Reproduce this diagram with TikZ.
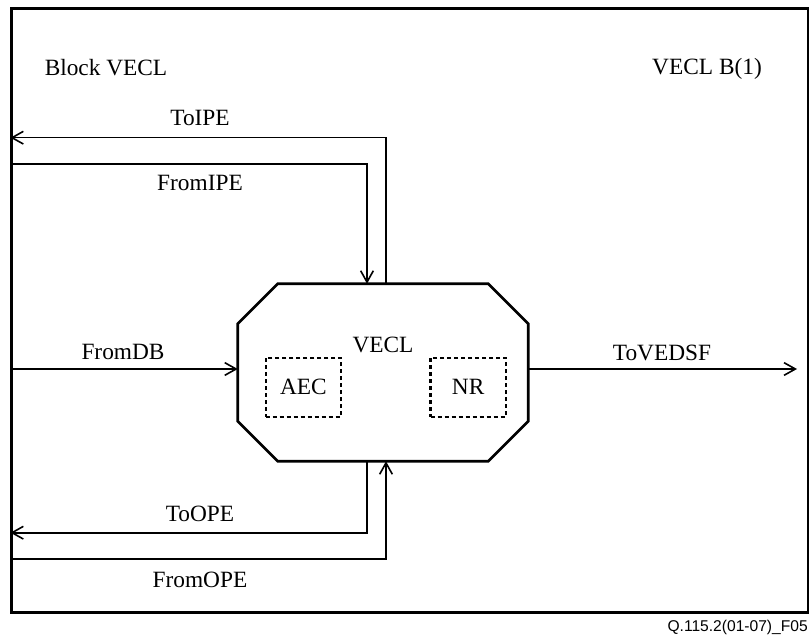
\documentclass[tikz,border=0pt]{standalone}
\usepackage{fontspec}
\setmainfont{Liberation Serif}
\newfontfamily\footerfont{Liberation Sans}
\usetikzlibrary{arrows.meta,calc}
\tikzset{
  lbl/.style={font=\fontsize{17.5}{20}\selectfont, inner sep=0pt},
  conn/.style={line width=1.2pt, -{Straight Barb[length=8.5pt,width=9.5pt]}},
  subbox/.style={draw, dash pattern=on 3pt off 2.25pt, line width=1.6pt,
    minimum width=56.5pt, minimum height=44.25pt, inner sep=0pt},
}
\begin{document}
\begin{tikzpicture}[x=0.75pt,y=-0.75pt]
\useasboundingbox (0,0) rectangle (811,635);
% outer block frame
\node[draw, line width=2pt, minimum width=597.2pt, minimum height=453.3pt, inner sep=0pt]
  (frame) at (409.85,310.5) {};
% central VECL process (octagon)
\node[minimum width=217.5pt, minimum height=132.75pt, inner sep=0pt] (vecl) at (383,372.5) {};
\draw[line width=2pt, line join=miter]
  ($(vecl.north west)+(40,0)$) -- ($(vecl.north east)+(-40,0)$)
  -- ($(vecl.north east)+(0,40)$) -- ($(vecl.south east)+(0,-40)$)
  -- ($(vecl.south east)+(-40,0)$) -- ($(vecl.south west)+(40,0)$)
  -- ($(vecl.south west)+(0,-40)$) -- ($(vecl.north west)+(0,40)$) -- cycle;
\node[lbl] (title) at (383,345) {VECL};
\node[subbox] (aec) at (303.4,387.2) {};
\node[lbl] (aectxt) at (aec) {AEC};
\node[subbox] (nr) at (468.2,387.2) {};
\node[lbl] (nrtxt) at (nr) {NR};
% headings
\node[lbl] (blk) at (106,68) {Block VECL};
\node[lbl] (blkid) at (707,69) {VECL B(1)};
% routing points
\coordinate (tipe) at (386,137.7);
\coordinate (fipe) at (367,164);
\coordinate (fdb) at (0,369);
\coordinate (vedsf) at (797,369);
\coordinate (tope) at (367,532.7);
\coordinate (fope) at (386,558.7);
% connectors
\draw[conn] (vecl.north -| tipe) -- (tipe) -- (frame.west |- tipe);
\draw[conn] (frame.west |- fipe) -- (fipe) -- (vecl.north -| fipe);
\draw[conn] (frame.west |- fdb) -- (vecl.west |- fdb);
\draw[conn] (vecl.east |- vedsf) -- (vedsf);
\draw[conn] (vecl.south -| tope) -- (tope) -- (frame.west |- tope);
\draw[conn] (frame.west |- fope) -- (fope) -- (vecl.south -| fope);
% connector labels
\node[lbl] (ltipe) at (200,118) {ToIPE};
\node[lbl] (lfipe) at (200,183) {FromIPE};
\node[lbl] (lfdb) at (123,352) {FromDB};
\node[lbl] (lvedsf) at (662,353) {ToVEDSF};
\node[lbl] (ltope) at (200,514) {ToOPE};
\node[lbl] (lfope) at (200,580) {FromOPE};
% figure reference
\node[anchor=east, inner sep=0pt, font=\footerfont\fontsize{11.7}{14}\selectfont] (fig) at (808,627) {Q.115.2(01-07)\_F05};
\end{tikzpicture}
\end{document}
